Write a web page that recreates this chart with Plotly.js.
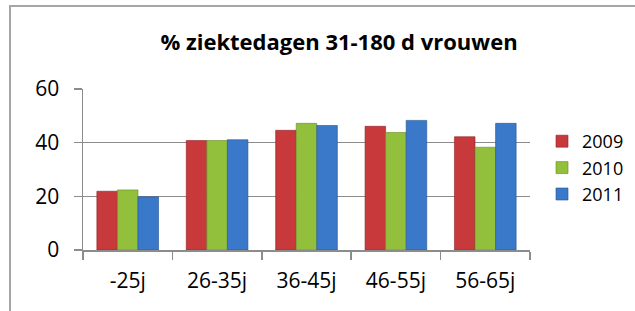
<!DOCTYPE html>
<html>
<head>
<meta charset="utf-8">
<script src="https://cdn.plot.ly/plotly-3.0.1.min.js"></script>
<style>
html,body{margin:0;padding:0;background:#fff;}
#wrap{position:relative;width:635px;height:311px;overflow:hidden;}
#chart{position:absolute;left:0;top:0;width:635px;height:311px;}
#frame{position:absolute;left:9px;top:5px;width:640px;height:320px;border-left:2px solid #a6a6a6;border-top:2px solid #a6a6a6;pointer-events:none;}
</style>
</head>
<body>
<div id="wrap">
<div id="chart"></div>
<div id="frame"></div>
</div>
<script>
const categories = ['-25j', '26-35j', '36-45j', '46-55j', '56-65j'];
const years = ['2009', '2010', '2011'];
const values2009 = [21.9, 40.8, 44.6, 46.1, 42.2];
const values2010 = [22.4, 40.8, 47.2, 43.8, 38.3];
const values2011 = [19.8, 41.1, 46.4, 48.3, 47.2];
const yTicks = [0, 20, 40, 60];

const series = [values2009, values2010, values2011];
const colors = ['#C8393B', '#92C03C', '#3A78C9'];
const lines = ['#8E2426', '#678A22', '#24548F'];
const FONT = '"Open Sans", Lato, sans-serif';

const traces = series.map((vals, i) => ({
  type: 'bar',
  name: years[i],
  x: categories,
  y: vals,
  marker: {color: colors[i], line: {color: lines[i], width: 0.6}},
  hoverinfo: 'skip'
}));

const layout = {
  width: 635,
  height: 311,
  margin: {l: 83, r: 105, t: 89, b: 61, autoexpand: false},
  paper_bgcolor: '#ffffff',
  plot_bgcolor: '#ffffff',
  barmode: 'group',
  bargap: 0.31,
  bargroupgap: 0,
  showlegend: true,
  font: {family: FONT, color: '#000'},
  title: {
    text: '<b>% ziektedagen 31-180 d vrouwen</b>',
    font: {family: FONT, size: 22, color: '#000'},
    x: 339 / 635, xanchor: 'center',
    y: 1 - 42 / 311, yanchor: 'middle'
  },
  xaxis: {
    type: 'category',
    tickson: 'boundaries',
    ticks: 'outside',
    ticklen: 8,
    tickcolor: '#8c8c8c',
    tickwidth: 1.5,
    showline: true,
    linecolor: '#8c8c8c',
    linewidth: 1.5,
    showgrid: false,
    ticklabelstandoff: 11,
    tickfont: {family: FONT, size: 21, color: '#000'},
    fixedrange: true
  },
  yaxis: {
    range: [0, 60],
    tickvals: yTicks,
    ticktext: yTicks.map(String),
    ticks: 'outside',
    ticklen: 8,
    tickcolor: '#8c8c8c',
    tickwidth: 1.5,
    showline: true,
    linecolor: '#8c8c8c',
    linewidth: 1.5,
    showgrid: true,
    gridcolor: '#8c8c8c',
    gridwidth: 1.5,
    zeroline: false,
    ticklabelstandoff: 10,
    tickfont: {family: FONT, size: 21, color: '#000'},
    fixedrange: true
  },
  legend: {
    xref: 'container', yref: 'container',
    x: 542 / 635, xanchor: 'left',
    y: 1 - 168 / 311, yanchor: 'middle',
    font: {family: FONT, size: 18, color: '#000'},
    itemwidth: 30,
    tracegroupgap: 0,
    bgcolor: 'rgba(0,0,0,0)'
  }
};

Plotly.newPlot('chart', traces, layout, {displayModeBar: false, staticPlot: true});
</script>
</body>
</html>
